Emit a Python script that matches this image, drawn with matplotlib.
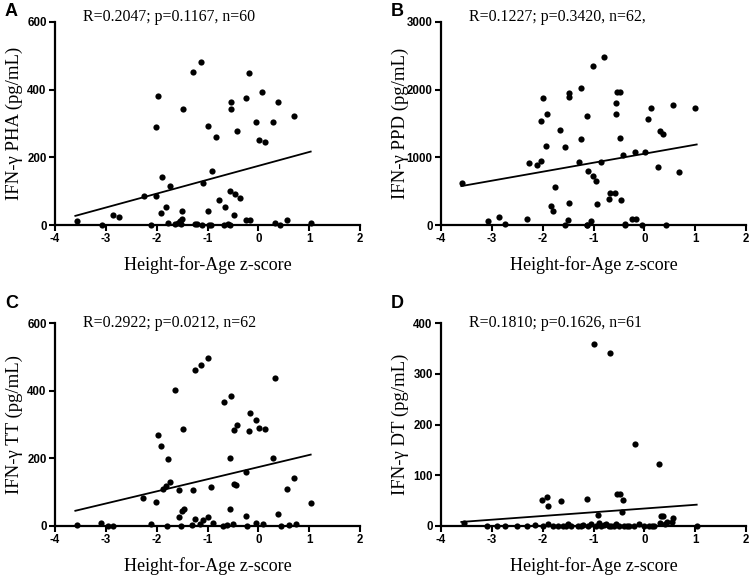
import matplotlib
matplotlib.use('Agg')
import matplotlib.pyplot as plt

plt.rcParams['axes.unicode_minus'] = False

# ---------------- data ----------------
A_z = [-3.57,-3.08,-2.86,-2.74,-2.25,-2.12,-2.02,-2.02,-1.98,-1.90,-1.92,-1.82,-1.74,-1.78,-1.64,
       -1.58,-1.54,-1.50,-1.50,-1.48,-1.28,-1.24,-1.12,-1.10,-1.08,-1.00,-1.00,-0.94,-0.92,-0.84,
       -0.78,-0.68,-0.66,-0.56,-0.56,-0.54,-0.54,-0.48,-0.45,-0.42,-0.37,-0.24,-0.24,-0.18,-0.16,
       -0.04,0.02,0.08,0.14,0.28,0.32,0.38,0.42,0.56,0.70,1.04,-1.52,-0.98,-1.20,-0.60]
A_v = [12,0,30,25,87,0,87,290,380,143,36,52,115,6,4,
       7,11,18,40,344,452,4,483,0,123,293,40,0,160,259,
       73,0,54,100,0,365,344,30,91,279,79,375,14,450,14,
       303,251,392,246,305,5,363,0,15,323,7,2,1,3,2]
A_fit_x = [-3.6, 1.03]
A_fit_y = [27, 217]

B_z = [-3.58,-3.08,-2.86,-2.75,-2.30,-2.27,-2.12,-2.03,-2.03,-1.99,-1.93,-1.91,-1.83,-1.79,-1.75,
       -1.65,-1.57,-1.57,-1.51,-1.49,-1.49,-1.49,-1.25,-1.25,-1.28,-1.13,-1.12,-1.10,-1.05,-1.01,
       -1.01,-0.95,-0.93,-0.85,-0.79,-0.69,-0.67,-0.57,-0.56,-0.55,-0.54,-0.48,-0.48,-0.45,-0.42,
       -0.38,-0.25,-0.19,-0.16,-0.05,0.01,0.07,0.13,0.27,0.31,0.37,0.42,0.56,0.69,1.00,-1.12,-0.38]
B_v = [627,63,122,10,93,916,887,946,1544,1877,1171,1637,274,210,559,
       1397,1156,0,73,319,1955,1886,2024,1264,926,1607,0,798,64,725,
       2357,647,304,936,2489,377,480,466,1803,1637,1965,1965,1279,363,1034,
       0,83,1083,83,0,1078,1563,1730,857,1387,1352,0,1769,779,1735,5,8]
B_fit_x = [-3.6, 1.03]
B_fit_y = [575, 1190]

C_z = [-2.27,-2.02,-1.98,-1.92,-1.88,-1.82,-1.78,-1.74,-1.64,-1.56,-1.56,-1.50,-1.48,-1.46,-1.28,
       -1.24,-1.24,-1.12,-1.08,-1.00,-1.00,-0.94,-0.68,-0.56,-0.56,-0.54,-0.48,-0.48,-0.44,-0.42,
       -0.24,-0.24,-0.18,-0.16,-0.04,0.02,0.14,0.28,0.32,0.38,0.56,0.70,1.04,
       -3.57,-3.10,-2.95,-2.85,-2.12,-1.80,-1.52,-1.30,-1.15,-0.90,-0.70,-0.62,-0.50,-0.22,-0.05,
       0.10,0.45,0.60,0.75]
C_v = [82,70,269,236,110,118,197,130,402,107,26,45,288,49,106,
       462,20,477,18,496,27,115,366,200,49,384,284,124,121,300,
       160,30,282,333,314,291,288,200,438,35,109,143,67,
       4,8,0,0,6,0,0,3,5,8,0,3,5,0,10,
       5,0,3,5]
C_fit_x = [-3.6, 1.03]
C_fit_y = [45, 211]

D_z = [-1.00,-0.68,-0.18,0.28,-2.01,-1.92,-1.90,-1.63,-1.12,-0.54,-0.48,-0.42,-0.92,-0.44,0.32,
       0.37,0.56,
       -3.55,-3.10,-2.90,-2.75,-2.30,-2.15,-2.00,-1.90,-1.80,-1.70,-1.55,-1.50,-1.45,-1.30,-1.20,
       -1.10,-1.05,-0.95,-0.90,-0.85,-0.75,-0.65,-0.60,-0.55,-0.50,-0.40,-0.30,-0.20,-0.10,0.00,
       0.10,0.20,0.30,0.45,0.55,1.03,-1.60,-1.25,-0.80,-0.35,0.15,0.40,-2.50,-0.70]
D_v = [358,340,161,122,51,57,40,49,54,63,63,51,21,28,20,
       20,15,
       5,0,0,0,0,2,0,3,0,0,0,3,0,0,2,
       0,4,0,6,0,3,0,0,4,0,0,0,0,3,0,
       0,0,5,8,8,0,0,0,2,0,0,3,0,0]
D_fit_x = [-3.6, 1.03]
D_fit_y = [8, 42]

x_ticks = [-4, -3, -2, -1, 0, 1, 2]

panels = [
    dict(letter='A', z=A_z, v=A_v, fx=A_fit_x, fy=A_fit_y, ymax=600, yt=[0, 200, 400, 600],
         ylabel='IFN-\u03b3 PHA (pg/mL)', stat='R=0.2047; p=0.1167, n=60'),
    dict(letter='B', z=B_z, v=B_v, fx=B_fit_x, fy=B_fit_y, ymax=3000, yt=[0, 1000, 2000, 3000],
         ylabel='IFN-\u03b3 PPD (pg/mL)', stat='R=0.1227; p=0.3420, n=62,'),
    dict(letter='C', z=C_z, v=C_v, fx=C_fit_x, fy=C_fit_y, ymax=600, yt=[0, 200, 400, 600],
         ylabel='IFN-\u03b3 TT (pg/mL)', stat='R=0.2922; p=0.0212, n=62'),
    dict(letter='D', z=D_z, v=D_v, fx=D_fit_x, fy=D_fit_y, ymax=400, yt=[0, 100, 200, 300, 400],
         ylabel='IFN-\u03b3 DT (pg/mL)', stat='R=0.1810; p=0.1626, n=61'),
]

W, H = 750, 575
fig = plt.figure(figsize=(7.5, 5.75), dpi=100)

# pixel boxes: (x_left, x_right, y_top, y_bottom, stat_y, letter_y)
boxes = [(55, 360, 22, 225, 17, 12), (441, 746, 22, 225, 17, 12),
         (55, 360, 323, 526, 323, 304), (441, 746, 323, 526, 323, 304)]
serif = 'Liberation Serif'
sans = 'Liberation Sans'

for p, (x0, x1, yt0, yb0, sy, ly) in zip(panels, boxes):
    ax = fig.add_axes([x0 / W, 1 - yb0 / H, (x1 - x0) / W, (yb0 - yt0) / H])
    ax.scatter(p['z'], p['v'], s=20, color='black', zorder=3, clip_on=False, linewidths=0)
    ax.plot(p['fx'], p['fy'], color='black', lw=1.3, zorder=2)
    ax.set_xlim(-4, 2)
    ax.set_ylim(0, p['ymax'])
    ax.set_xticks(x_ticks)
    ax.set_yticks(p['yt'])
    for s in ['top', 'right']:
        ax.spines[s].set_visible(False)
    for s in ['left', 'bottom']:
        ax.spines[s].set_linewidth(1.6)
    ax.tick_params(direction='out', length=4, width=1.5, pad=2)
    for lab in ax.get_xticklabels() + ax.get_yticklabels():
        lab.set_fontfamily(sans)
        lab.set_fontweight('bold')
        lab.set_fontsize(8.3)
    cx = (x0 + x1) / 2
    fig.text(cx / W, 1 - (yb0 + 40) / H, 'Height-for-Age z-score', family=serif, fontsize=13,
             ha='center', va='center')
    fig.text((x0 - 41) / W, 1 - (yt0 + yb0) / 2 / H, p['ylabel'], family=serif, fontsize=13.5,
             rotation=90, ha='center', va='center')
    fig.text((x0 + 28) / W, 1 - sy / H, p['stat'], family=serif, fontsize=11.4,
             ha='left', va='center')
    fig.text((x0 - 50) / W, 1 - ly / H, p['letter'], family=sans, fontweight='bold',
             fontsize=13, ha='left', va='center')

fig.savefig('out.png', dpi=100)
